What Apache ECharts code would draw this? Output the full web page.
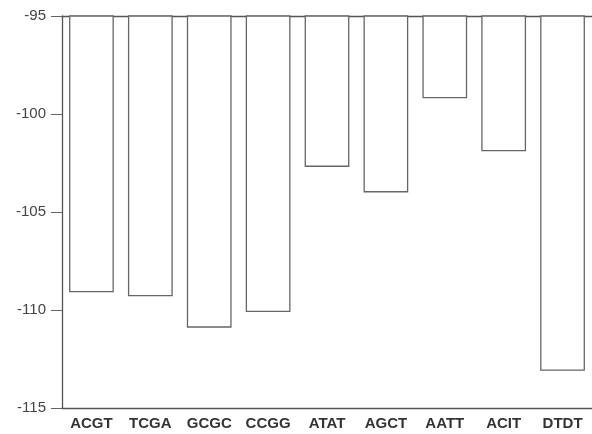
<!DOCTYPE html>
<html><head><meta charset="utf-8">
<script src="https://cdn.jsdelivr.net/npm/echarts@6/dist/echarts.min.js"></script>
<style>html,body{margin:0;padding:0;background:#fff}#c{width:592px;height:434px}</style>
</head><body><div id="c"></div>
<script>
var categories = ['ACGT','TCGA','GCGC','CCGG','ATAT','AGCT','AATT','ACIT','DTDT'];
var values = [-109.1, -109.3, -110.9, -110.1, -102.7, -104.0, -99.2, -101.9, -113.1];
var yTicks = [-115, -110, -105, -100, -95];

var chart = echarts.init(document.getElementById('c'));
chart.setOption({
  animation: false,
  backgroundColor: '#fff',
  grid: {left: 62, right: -4, top: 16, bottom: 26},
  xAxis: [{
    type: 'category', data: categories, position: 'bottom',
    axisLine: {show: true, lineStyle: {color: '#555', width: 1.3}},
    axisTick: {show: false},
    axisLabel: {color: '#333', fontFamily: 'Liberation Sans, Arial, sans-serif', fontSize: 15, fontWeight: 'bold', margin: 8}
  }, {
    type: 'category', data: categories, position: 'top',
    axisLine: {show: true, lineStyle: {color: '#555', width: 1.3}},
    axisTick: {show: false}, axisLabel: {show: false}
  }],
  yAxis: {
    type: 'value', min: yTicks[0], max: yTicks[yTicks.length-1], interval: 5,
    axisLine: {show: true, lineStyle: {color: '#555', width: 1.3}},
    axisTick: {show: true, length: 11, lineStyle: {color: '#666'}},
    splitLine: {show: false},
    axisLabel: {color: '#444', fontFamily: 'Liberation Sans, Arial, sans-serif', fontSize: 15, margin: 16}
  },
  series: [{
    type: 'bar', data: values, barWidth: '76%', clip: true,
    itemStyle: {color: '#fff', borderColor: '#666', borderWidth: 1.3}
  }]
});
</script></body></html>
